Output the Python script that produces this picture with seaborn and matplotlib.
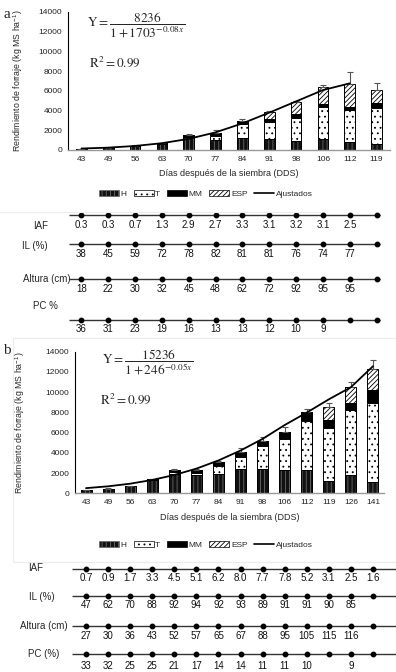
import numpy as np
import pandas as pd
import seaborn as sns
import matplotlib.pyplot as plt
import matplotlib.patches as mpatches
from matplotlib.lines import Line2D

# ---- panel a data ----
days_a = ["43", "49", "56", "63", "70", "77", "84", "91", "98", "106", "112", "119"]
h_a = [100, 200, 400, 650, 1350, 1020, 1190, 1120, 950, 1090, 850, 600]
t_a = [0, 0, 0, 0, 0, 400, 1430, 1770, 2280, 3230, 3230, 3640]
mm_a = [0, 0, 0, 30, 150, 340, 340, 270, 410, 340, 270, 510]
esp_a = [0, 0, 0, 0, 0, 0, 0, 650, 1220, 1700, 2380, 1360]
err_a = [30, 40, 60, 80, 120, 300, 150, 170, 120, 220, 1200, 700]
fit_a = [150, 240, 410, 690, 1130, 1790, 2700, 3790, 4930, 6080, 6760]

iaf_a = [0.3, 0.3, 0.7, 1.3, 2.9, 2.7, 3.3, 3.1, 3.2, 3.1, 2.5, None]
il_a = [38, 45, 59, 72, 78, 82, 81, 81, 76, 74, 77, None]
alt_a = [18, 22, 30, 32, 45, 48, 62, 72, 92, 95, 95, None]
pc_a = [36, 31, 23, 19, 16, 13, 13, 12, 10, 9, None, None]

# ---- panel b data ----
days_b = ["43", "49", "56", "63", "70", "77", "84", "91", "98", "106", "112", "119", "126", "141"]
h_b = [300, 450, 720, 1300, 1900, 1810, 1910, 2370, 2370, 2300, 2300, 1250, 1810, 1150]
t_b = [0, 0, 0, 0, 200, 230, 790, 1190, 2300, 3030, 4850, 5180, 6430, 7750]
mm_b = [0, 0, 0, 80, 200, 260, 430, 560, 530, 760, 890, 820, 660, 1320]
esp_b = [0, 0, 0, 0, 0, 0, 0, 0, 0, 0, 0, 1320, 1650, 2050]
err_b = [30, 30, 40, 80, 100, 150, 100, 330, 340, 500, 270, 330, 500, 920]
fit_b = [510, 690, 950, 1320, 1810, 2440, 3250, 4230, 5380, 6750, 7980, 9290, 10490, 12560]

iaf_b = [0.7, 0.9, 1.7, 3.3, 4.5, 5.1, 6.2, 8.0, 7.7, 7.8, 5.2, 3.1, 2.5, 1.6]
il_b = [47, 62, 70, 88, 92, 94, 92, 93, 89, 91, 91, 90, 85, None]
alt_b = [27, 30, 36, 43, 52, 57, 65, 67, 88, 95, 105, 115, 116, None]
pc_b = [33, 32, 25, 25, 21, 17, 14, 14, 11, 11, 10, None, 9, None]

sns.set_theme(style="white")
plt.rcParams["font.family"] = ["Liberation Sans", "DejaVu Sans"]
plt.rcParams["mathtext.fontset"] = "stix"
plt.rcParams["hatch.linewidth"] = 0.6

W, H = 396, 672
fig = plt.figure(figsize=(W / 100, H / 100), dpi=100)


def box(left, top, right, bottom):
    return [left / W, 1 - bottom / H, (right - left) / W, (bottom - top) / H]


# styles: (face, hatch, hatch colour)
styles = {
    "H": ("#111111", "||||", "#6a6a6a"),
    "T": ("white", "...", "black"),
    "MM": ("black", None, "black"),
    "ESP": ("white", "///////", "black"),
}


def bar_panel(ax, days, h, t, mm, esp, err, fit, width):
    df = pd.DataFrame({"dia": days, "H": h, "T": t, "MM": mm, "ESP": esp})
    df["c_H"] = df["H"]
    df["c_T"] = df["c_H"] + df["T"]
    df["c_MM"] = df["c_T"] + df["MM"]
    df["c_ESP"] = df["c_MM"] + df["ESP"]
    for key in ["ESP", "MM", "T", "H"]:
        face, hatch, hc = styles[key]
        sns.barplot(data=df, x="dia", y="c_" + key, order=days, color=face,
                    saturation=1, width=width, hatch=hatch, edgecolor=hc,
                    linewidth=0, errorbar=None, ax=ax)
        sns.barplot(data=df, x="dia", y="c_" + key, order=days, color="black",
                    fill=False, width=width, linewidth=0.7, errorbar=None, ax=ax)
    pos = np.arange(len(days))
    ax.errorbar(pos, df["c_ESP"], yerr=[np.zeros(len(days)), err], fmt="none",
                ecolor="#555555", elinewidth=0.8, capsize=2, capthick=0.8)
    sns.lineplot(x=np.arange(len(fit)), y=fit, color="black", linewidth=1.3,
                 sort=False, ax=ax)
    ax.set_xlim(-0.5, len(days) - 0.5)
    ax.set_ylim(0, 14000)
    ax.set_yticks(range(0, 14001, 2000))
    ax.tick_params(length=0, labelsize=6, pad=4, colors="#222222")
    for s in ["top", "right"]:
        ax.spines[s].set_visible(False)
    ax.spines["left"].set_color("black")
    ax.spines["left"].set_linewidth(0.8)
    ax.spines["bottom"].set_color("#999999")
    ax.spines["bottom"].set_linewidth(1.0)
    ax.set_xlabel("Días después de la siembra (DDS)", fontsize=6.5, labelpad=5)
    ax.set_ylabel("Rendimiento de forraje (kg MS ha$^{\\mathregular{-1}}$)", fontsize=6.3)


def rows_panel(ax, n, rows, x0, x1):
    for label, vals, y_line, y_val, fmt in rows:
        ax.hlines(y_line, x0, x1, color="#333333", linewidth=1.0, clip_on=False)
        ax.plot(np.arange(n), [y_line] * n, "o", color="black", markersize=3.2,
                clip_on=False)
        for i, v in enumerate(vals):
            if v is not None:
                ax.text(i, y_val, fmt.format(v), ha="center", va="center",
                        fontsize=7, color="#111111")
    ax.axis("off")


def legend_at(y):
    handles = []
    for key in ["H", "T", "MM", "ESP"]:
        face, hatch, hc = styles[key]
        handles.append(mpatches.Patch(facecolor=face, hatch=hatch, edgecolor=hc,
                                      linewidth=0.5, label=key))
    handles.append(Line2D([], [], color="black", linewidth=1.2, label="Ajustados"))
    fig.legend(handles=handles, loc="center", bbox_to_anchor=(206 / W, 1 - y / H),
               ncol=5, frameon=False, fontsize=6, handlelength=2.4,
               handleheight=0.6, columnspacing=0.8, handletextpad=0.2)


# ---------- panel a ----------
ax_a = fig.add_axes(box(68, 12, 390, 150))
bar_panel(ax_a, days_a, h_a, t_a, mm_a, esp_a, err_a, fit_a, 0.4)
ax_a.yaxis.set_label_coords(-0.135, 0.5)
ax_a.text(0.21, 0.905, r"$\mathrm{Y} = \dfrac{8236}{1 + 1703^{-0.08x}}$",
          transform=ax_a.transAxes, ha="center", va="center", fontsize=9.5)
ax_a.text(0.145, 0.63, r"$\mathrm{R}^2 = 0.99$", transform=ax_a.transAxes,
          ha="center", va="center", fontsize=9.5)
fig.text(3 / W, 1 - 14 / H, "a", family="Liberation Serif", fontsize=11,
         ha="left", va="center")
legend_at(194)
fig.add_artist(Line2D([0, 320 / W], [1 - 212 / H] * 2, color="#ececec", linewidth=0.8))

rax_a = fig.add_axes(box(68, 200, 390, 340))
rax_a.set_xlim(-0.5, len(days_a) - 0.5)
rax_a.set_ylim(340, 200)
rows_panel(rax_a, len(days_a), [
    ("IAF", iaf_a, 215, 224.5, "{:.1f}"),
    ("IL (%)", il_a, 244, 254, "{}"),
    ("Altura (cm)", alt_a, 279, 288.5, "{}"),
    ("PC %", pc_a, 320, 329, "{}"),
], -0.45, 11.12)
for txt, x, y in [("IAF", 33, 226), ("IL (%)", 22, 246), ("Altura (cm)", 23, 279), ("PC %", 33, 306)]:
    fig.text(x / W, 1 - y / H, txt, fontsize=7, ha="left", va="center")

# ---------- panel b ----------
fig.add_artist(mpatches.Rectangle((13 / W, 1 - 562 / H), 383 / W, 224 / H,
                                  fill=False, edgecolor="#ececec", linewidth=0.8))
ax_b = fig.add_axes(box(75, 351.7, 384, 493.3))
bar_panel(ax_b, days_b, h_b, t_b, mm_b, esp_b, err_b, fit_b, 0.5)
ax_b.yaxis.set_label_coords(-0.155, 0.5)
ax_b.text(0.236, 0.927, r"$\mathrm{Y} = \dfrac{15236}{1 + 246^{-0.05x}}$",
          transform=ax_b.transAxes, ha="center", va="center", fontsize=9.5)
ax_b.text(0.165, 0.66, r"$\mathrm{R}^2 = 0.99$", transform=ax_b.transAxes,
          ha="center", va="center", fontsize=9.5)
fig.text(3 / W, 1 - 351 / H, "b", family="Liberation Serif", fontsize=11,
         ha="left", va="center")
legend_at(545)

rax_b = fig.add_axes(box(75, 555, 384, 672))
rax_b.set_xlim(-0.5, len(days_b) - 0.5)
rax_b.set_ylim(672, 555)
rows_panel(rax_b, len(days_b), [
    ("IAF", iaf_b, 569, 578, "{:.1f}"),
    ("IL (%)", il_b, 596, 605.5, "{}"),
    ("Altura (cm)", alt_b, 626, 636, "{}"),
    ("PC (%)", pc_b, 654, 666, "{}"),
], -0.63, 14.04)
for txt, x, y in [("IAF", 28, 568), ("IL (%)", 29, 597), ("Altura (cm)", 20, 626), ("PC (%)", 28, 654)]:
    fig.text(x / W, 1 - y / H, txt, fontsize=7, ha="left", va="center")

fig.savefig("out.png", dpi=100)
